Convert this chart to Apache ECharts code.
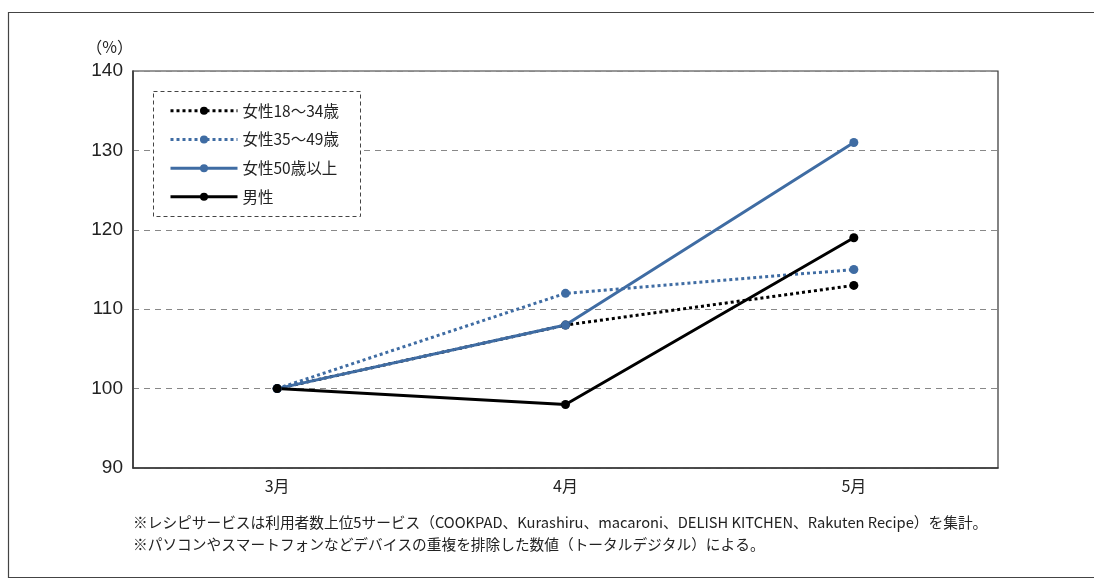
<!DOCTYPE html>
<html>
<head>
<meta charset="utf-8">
<script src="https://cdn.jsdelivr.net/npm/echarts@6/dist/echarts.min.js"></script>
<style>
  html, body { margin: 0; padding: 0; background: #fff; }
  #chart { width: 1094px; height: 583px; }
</style>
</head>
<body>
<div id="chart"></div>
<script>
// Months on the x axis
const months = ['3月', '4月', '5月'];

// Index values (March = 100)
const women18to34 = [100, 108, 113];
const women35to49 = [100, 112, 115];
const women50plus = [100, 108, 131];
const men = [100, 98, 119];

const seriesNames = ['女性18〜34歳', '女性35〜49歳', '女性50歳以上', '男性'];

const notes = [
  '※レシピサービスは利用者数上位5サービス（COOKPAD、Kurashiru、macaroni、DELISH KITCHEN、Rakuten Recipe）を集計。',
  '※パソコンやスマートフォンなどデバイスの重複を排除した数値（トータルデジタル）による。'
];

const BLUE = '#3f6ca3';
const BLACK = '#000000';
const FONT = '"Noto Sans CJK JP", "Noto Sans", sans-serif';

function line(name, data, color, dotted) {
  return {
    name: name,
    type: 'line',
    data: data,
    symbol: 'circle',
    symbolSize: 9,
    showSymbol: true,
    color: color,
    itemStyle: { color: color },
    lineStyle: { color: color, width: 3, type: dotted ? [3, 3] : 'solid' },
    emphasis: { disabled: true },
    animation: false
  };
}

const chart = echarts.init(document.getElementById('chart'), null, { renderer: 'canvas' });
chart.setOption({
  backgroundColor: '#fff',
  textStyle: { fontFamily: FONT },
  grid: {
    left: 133, right: 96, top: 71, bottom: 115,
    show: true, borderColor: '#333', borderWidth: 1.2, backgroundColor: 'transparent'
  },
  legend: {
    orient: 'vertical',
    left: 164,
    top: 98,
    z: 20,
    itemWidth: 67,
    itemHeight: 10,
    itemGap: 13.2,
    data: seriesNames,
    lineStyle: { width: 3 },
    textStyle: { fontSize: 15.5, color: '#222', fontFamily: FONT, padding: [0, 0, 0, 0] },
    selectedMode: false
  },
  xAxis: {
    type: 'category',
    data: months,
    boundaryGap: true,
    axisLine: { lineStyle: { color: '#333', width: 1.5 } },
    axisTick: { show: false },
    axisLabel: { fontSize: 16, color: '#222', margin: 10, fontFamily: FONT }
  },
  yAxis: {
    type: 'value',
    min: 90,
    max: 140,
    interval: 10,
    name: '（%）',
    nameLocation: 'end',
    nameGap: 16,
    nameTextStyle: { fontSize: 16, color: '#222', align: 'right', padding: [0, 0, 0, 0], fontFamily: FONT },
    axisLine: { show: true, lineStyle: { color: '#333', width: 1.5 } },
    axisTick: { show: false },
    axisLabel: { fontSize: 19, color: '#222', margin: 10, fontFamily: '"Liberation Sans", Arial, sans-serif' },
    splitLine: { lineStyle: { color: '#888', type: [6, 5], width: 1 } }
  },
  series: [
    line(seriesNames[0], women18to34, BLACK, true),
    line(seriesNames[1], women35to49, BLUE, true),
    line(seriesNames[2], women50plus, BLUE, false),
    line(seriesNames[3], men, BLACK, false)
  ],
  graphic: [
    {
      type: 'rect', silent: true, z: -1,
      shape: { x: 8.5, y: 12.5, width: 1100, height: 565 },
      style: { fill: 'none', stroke: '#444', lineWidth: 1.2 }
    },
    {
      type: 'rect', silent: true, z: 5,
      shape: { x: 153.5, y: 91.5, width: 207, height: 125 },
      style: { fill: '#fff', stroke: '#444', lineWidth: 1, lineDash: [4, 3] }
    },
    {
      type: 'text', left: 133, top: 515, silent: true,
      style: { text: notes[0], fontSize: 14.7, fill: '#222', fontFamily: FONT }
    },
    {
      type: 'text', left: 133, top: 537, silent: true,
      style: { text: notes[1], fontSize: 14.7, fill: '#222', fontFamily: FONT }
    }
  ]
});
</script>
</body>
</html>
